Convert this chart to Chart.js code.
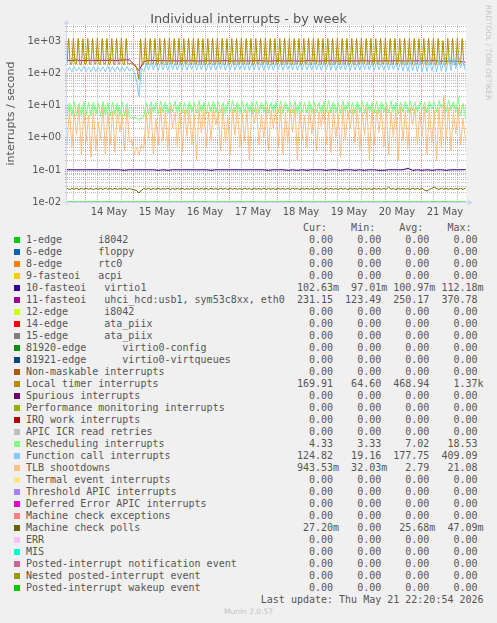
<!DOCTYPE html>
<html>
<head>
<meta charset="utf-8">
<script src="https://cdn.jsdelivr.net/npm/chart.js@4.4.1/dist/chart.umd.min.js"></script>
<style>
    html, body { margin: 0; padding: 0; background: #F0F0F0; }
    body { width: 497px; height: 623px; position: relative; overflow: hidden; font-family: 'DejaVu Sans', sans-serif; }
    #wrap { position: absolute; left: 0; top: 0; width: 497px; height: 222px; }
    #title { position: absolute; left: 0; top: 11px; width: 497px; text-align: center; font-size: 12.9px; line-height: 15px; color: #555; }
    #legend { position: absolute; left: 26px; top: 222px; margin: 0; font: 10px/12px 'DejaVu Sans Mono', monospace; color: #555; white-space: pre; }
    .sw { position: absolute; left: 14px; width: 6px; height: 6px; }
    #wm { position: absolute; left: 484px; top: 5px; writing-mode: vertical-rl; font-size: 7.4px; line-height: 8px; color: #c4c4c4; white-space: nowrap; }
    #foot { position: absolute; left: 0; top: 607px; width: 497px; text-align: center; font-size: 7.5px; line-height: 9px; color: #c4c4c4; }
</style>
</head>
<body>
<div id="wrap"><canvas id="chart" width="497" height="222"></canvas></div>
<div id="title">Individual interrupts - by week</div>
<div id="wm">RRDTOOL / TOBI OETIKER</div>
<pre id="legend"></pre>
<div id="foot">Munin 2.0.57</div>
<script>
// hours counted from 14 May 00:00, samples every timerStep / fastStep / slowStep hours
const t0 = -9;
const timerStep = 0.8;
const fastStep = 1.2;
const slowStep = 2.4;
const xMin = -9, xMax = 190.5;
const yMin = 0.01, yMax = 3300;

const dayLabels = ['14 May', '15 May', '16 May', '17 May', '18 May', '19 May', '20 May', '21 May'];
const dayLabelHours = [12, 36, 60, 84, 108, 132, 156, 180];
const yTickLabels = ['1e-02', '1e-01', '1e+00', '1e+01', '1e+02', '1e+03'];

// Local timer interrupts (timer grid)
const localTimer = [
    205,1260,200, 198,1250,203, 202,1270,197, 196,1240,201, 204,1260,199,
    199,1250,204, 203,1265,198, 197,1245,202, 201,1255,196, 206,1260,200,
    198,1250,203, 202,1270,199, 195,1245,200, 205,207,200, 190,180,120,
    66,1220,185, 200,1250,204, 198,1260,202, 204,1245,197, 198,1265,203,
    201,1250,196, 197,1260,203, 203,1255,198, 199,1270,204, 196,1240,200,
    205,1260,199, 200,1250,203, 198,1265,197, 202,1245,201, 197,1255,204,
    203,1260,198, 199,1250,202, 201,1270,196, 196,1245,203, 204,1260,199,
    198,1250,204, 202,1265,197, 199,1240,201, 203,1255,198, 197,1260,205,
    201,1250,196, 205,1270,200, 196,1245,203, 200,1260,199, 203,1250,197,
    199,1265,204, 202,1240,198, 197,1255,201, 204,1260,196, 198,1250,202,
    201,1270,197, 196,1245,203, 203,1260,199, 199,1250,205, 202,1265,198,
    197,1240,201, 205,1255,196, 200,1260,204, 198,1250,199, 203,1270,197,
    196,1245,202, 201,1260,198, 204,1250,203, 199,1265,196, 202,1240,200,
    198,1255,205, 203,1260,199, 197,1250,201, 201,1270,196, 205,1245,203,
    199,1260,197, 202,1250,204, 196,1265,198, 203,1240,201, 200,1255,199,
    198,1260,203, 204,1250,197, 197,1255,202, 201,1080,196, 199,1260,204,
    203,1250,198, 198,1255,202, 202,1240,185, 170
];

// Function call interrupts
const functionCall = [
    118,160,115,165,120,158,116,170,118,162,
    114,168,117,160,119,165,115,172,118,166,
    116,170,119,164,117,168,120,150,110,60,
    20,150,118,210,128,230,132,220,126,235,
    130,225,127,240,133,215,129,230,131,238,
    128,222,134,235,127,228,130,240,126,218,
    132,232,129,226,135,240,128,220,131,236,
    127,230,133,224,129,238,126,216,134,234,
    130,228,127,242,132,220,128,236,131,226,
    126,232,134,222,129,240,127,218,133,236,
    130,226,128,238,132,222,127,234,131,228,
    129,240,126,220,133,236,130,226,127,232,
    131,218,128,238,134,224,129,230,126,242,
    132,222,127,236,130,228,133,220,128,240,
    120,250,118,260,122,245,115,270,119,255,
    117,265,121,250,116,275,118,260,120,300,
    125,330,140,409,150,260,125
];

// Rescheduling interrupts
const rescheduling = [
    5.2,12.5,4.8,13.5,5.0,12.0,4.6,13.8,5.1,12.8,
    4.9,13.2,5.3,12.2,4.7,13.6,5.0,12.6,4.8,13.0,
    5.2,12.4,4.6,13.4,5.0,12.1,4.5,4.4,4.3,4.2,
    3.4,4.3,4.6,12.5,5.4,13.5,6.0,12.8,5.5,14.0,
    6.2,13.2,5.6,12.6,6.4,14.2,5.8,13.0,6.0,12.4,
    5.5,13.8,6.3,12.8,5.9,14.5,6.1,13.2,5.6,12.9,
    6.5,14.0,5.8,13.4,6.2,12.6,5.5,13.9,6.6,14.6,
    6.0,13.1,5.7,14.3,6.3,12.7,5.9,13.6,6.4,14.1,
    5.6,13.0,6.2,14.4,5.8,12.8,6.5,13.7,6.0,14.2,
    5.7,13.3,6.3,12.9,6.1,14.0,5.5,13.5,6.4,12.6,
    6.0,14.3,5.8,13.1,6.2,12.8,5.6,13.9,6.3,14.5,
    5.9,13.2,6.1,12.7,5.7,14.1,6.4,13.4,6.0,12.9,
    5.6,13.8,6.2,14.3,5.8,13.0,6.5,12.6,6.0,14.0,
    5.7,13.4,6.3,12.8,5.9,14.2,6.1,13.1,5.6,12.7,
    6.4,13.9,5.8,14.4,7.0,12.9,6.2,13.6,7.5,12.8,
    6.0,14.1,7.8,13.0,6.5,14.6,8.2,12.9,6.8,15.2,
    7.2,13.5,6.4,18.5,5.0,12.0,4.3
];

// TLB shootdowns
const tlbShootdowns = [
    0.6,8.0,0.5,6.0,1.2,9.0,0.3,7.5,0.8,5.0,
    0.25,8.5,0.4,3.0,0.9,9.5,0.3,6.5,0.6,7.0,
    0.35,8.0,1.5,5.5,0.4,9.0,0.7,0.9,0.3,0.5,
    0.3,0.6,0.45,6.0,1.0,8.5,0.3,4.0,0.6,9.0,
    0.8,7.0,0.4,9.5,2.0,6.0,0.5,8.0,0.35,7.5,
    1.1,9.0,0.6,5.5,0.2,8.0,1.4,9.5,0.5,6.5,
    0.9,8.5,2.5,7.0,0.4,9.0,0.7,4.5,0.3,8.0,
    1.2,9.5,0.5,6.0,0.8,7.5,0.2,9.0,3.0,8.0,
    0.6,5.5,1.0,9.0,0.4,7.0,2.0,8.5,0.5,9.5,
    0.3,6.0,0.7,8.0,1.5,9.0,0.2,7.5,0.9,5.0,
    0.5,9.0,1.3,8.0,0.4,6.5,2.2,9.5,0.6,7.0,
    0.35,8.5,1.0,5.5,0.25,9.0,0.8,7.0,2.0,8.0,
    0.7,9.5,0.4,6.0,1.2,8.5,0.2,9.0,0.6,7.5,
    1.5,8.0,0.5,9.5,0.3,6.5,1.0,8.0,0.2,9.0,
    0.8,7.0,0.45,9.0,2.5,8.5,0.6,6.0,1.1,9.5,
    0.3,8.0,0.7,7.0,0.19,9.0,0.5,21.0,0.9,8.5,
    0.4,6.5,1.3,9.0,0.6,4.0,0.94
];

// Machine check polls
const machineCheckPolls = [
    .0265,.0248,.0262,.0250,.0266,.0247,.0263,.0251,.0267,.0249,
    .0264,.0246,.0262,.0250,.0265,.0248,.0268,.0251,.0263,.0247,
    .0266,.0249,.0262,.0252,.0265,.0248,.0263,.0250,.0240,.0225,
    .0190,.0235,.0262,.0249,.0266,.0247,.0263,.0251,.0265,.0248,
    .0262,.0250,.0267,.0246,.0264,.0249,.0263,.0251,.0266,.0247,
    .0262,.0250,.0265,.0248,.0268,.0249,.0263,.0251,.0264,.0246,
    .0266,.0250,.0262,.0248,.0265,.0251,.0263,.0247,.0267,.0249,
    .0264,.0250,.0262,.0248,.0266,.0251,.0263,.0246,.0265,.0249,
    .0262,.0250,.0267,.0248,.0264,.0251,.0263,.0247,.0266,.0249,
    .0262,.0250,.0265,.0248,.0268,.0251,.0263,.0246,.0264,.0249,
    .0266,.0250,.0262,.0248,.0265,.0251,.0263,.0247,.0267,.0249,
    .0264,.0250,.0262,.0248,.0266,.0251,.0263,.0246,.0265,.0249,
    .0262,.0250,.0267,.0248,.0264,.0251,.0263,.0247,.0266,.0249,
    .0262,.0250,.0265,.0248,.0290,.0251,.0263,.0246,.0264,.0249,
    .0266,.0250,.0262,.0248,.0265,.0251,.0263,.0247,.0267,.0235,
    .0220,.0250,.0264,.0290,.0262,.0248,.0266,.0251,.0263,.0247,
    .0265,.0249,.0262,.0250,.0266,.0248,.0272
];

// 11-fasteoi (slow grid)
const fasteoi11 = [
    262,258,265,255,260,263,257,261,259,264,
    256,262,268,270,190,124,240,255,258,252,
    256,250,254,249,253,251,255,248,252,250,
    254,249,251,255,248,252,250,253,249,251,
    255,250,248,252,254,249,251,253,250,248,
    252,255,249,251,250,254,248,252,253,249,
    251,250,255,248,252,249,253,251,250,254,
    248,252,250,253,249,251,255,250,248,246,
    250,245,240,231
];

// 10-fasteoi virtio1 (slow grid)
const virtio1 = [
    .1008,.1009,.1007,.1008,.1009,.1008,.1007,.1009,.1008,.1008,
    .1009,.1007,.0970,.1008,.1009,.1007,.1008,.1009,.1008,.0970,
    .1008,.0970,.1009,.1007,.1008,.1009,.1008,.1007,.1009,.1008,
    .0970,.1008,.1009,.1007,.1008,.1009,.1008,.1007,.1009,.1008,
    .1009,.1008,.0970,.1007,.1009,.1008,.0970,.1008,.0970,.1009,
    .0970,.1008,.1007,.1009,.0970,.1008,.1009,.0970,.1008,.1007,
    .0970,.1009,.0970,.1008,.1007,.0970,.0970,.1009,.1008,.1007,
    .1009,.1122,.0970,.1008,.0970,.1009,.0970,.1008,.1007,.0970,
    .1008,.1009,.1007,.1026
];

// all the other sources stay at zero; rrdtool puts zero on the floor of a log graph
const wakeupZero = [0, 0];

const legendNames = [
    '1-edge      i8042', '6-edge      floppy', '8-edge      rtc0', '9-fasteoi   acpi',
    '10-fasteoi   virtio1', '11-fasteoi   uhci_hcd:usb1, sym53c8xx, eth0',
    '12-edge      i8042', '14-edge      ata_piix', '15-edge      ata_piix',
    '81920-edge      virtio0-config', '81921-edge      virtio0-virtqueues',
    'Non-maskable interrupts', 'Local timer interrupts', 'Spurious interrupts',
    'Performance monitoring interrupts', 'IRQ work interrupts', 'APIC ICR read retries',
    'Rescheduling interrupts', 'Function call interrupts', 'TLB shootdowns',
    'Thermal event interrupts', 'Threshold APIC interrupts', 'Deferred Error APIC interrupts',
    'Machine check exceptions', 'Machine check polls', 'ERR', 'MIS',
    'Posted-interrupt notification event', 'Nested posted-interrupt event', 'Posted-interrupt wakeup event'
];
const legendColors = [
    '#00CC00', '#0066B3', '#FF8000', '#FFCC00', '#330099', '#990099', '#CCFF00', '#FF0000',
    '#808080', '#008F00', '#00487D', '#B35A00', '#B38F00', '#6B006B', '#8FB300', '#B30000',
    '#BEBEBE', '#80FF80', '#80C9FF', '#FFC080', '#FFE680', '#AA80FF', '#EE00CC', '#FF8080',
    '#666600', '#FFBFFF', '#00FFCC', '#CC6699', '#999900', '#00CC00'
];
const Z = '0.00';
const legendCur = [Z,Z,Z,Z,'102.63m','231.15',Z,Z,Z,Z,Z,Z,'169.91',Z,Z,Z,Z,'4.33','124.82','943.53m',Z,Z,Z,Z,'27.20m',Z,Z,Z,Z,Z];
const legendMin = [Z,Z,Z,Z,'97.01m','123.49',Z,Z,Z,Z,Z,Z,'64.60',Z,Z,Z,Z,'3.33','19.16','32.03m',Z,Z,Z,Z,'0.00',Z,Z,Z,Z,Z];
const legendAvg = [Z,Z,Z,Z,'100.97m','250.17',Z,Z,Z,Z,Z,Z,'468.94',Z,Z,Z,Z,'7.02','177.75','2.79',Z,Z,Z,Z,'25.68m',Z,Z,Z,Z,Z];
const legendMax = [Z,Z,Z,Z,'112.18m','370.78',Z,Z,Z,Z,Z,Z,'1.37k',Z,Z,Z,Z,'18.53','409.09','21.08',Z,Z,Z,Z,'47.09m',Z,Z,Z,Z,Z];
const lastUpdate = 'Last update: Thu May 21 22:20:54 2026';

// --- legend (monospace columns like rrdtool) ---
const cell = s => (/[mk]$/.test(s) ? s : s + ' ').padStart(8);
const lines = [' '.repeat(46) + 'Cur:    Min:    Avg:    Max:'];
legendNames.forEach((name, i) => {
    lines.push(name.padEnd(44) + cell(legendCur[i]) + cell(legendMin[i]) + cell(legendAvg[i]) + cell(legendMax[i]));
    const sw = document.createElement('div');
    sw.className = 'sw';
    sw.style.top = (222 + 12 * (i + 1) + 3) + 'px';
    sw.style.background = legendColors[i];
    document.body.appendChild(sw);
});
lines.push(' '.repeat(39) + lastUpdate);
document.getElementById('legend').textContent = lines.join('\n');

// --- chart ---
const plotted = [
    { idx: 4, values: virtio1, step: slowStep },
    { idx: 5, values: fasteoi11, step: slowStep },
    { idx: 12, values: localTimer, step: timerStep },
    { idx: 17, values: rescheduling, step: fastStep },
    { idx: 18, values: functionCall, step: fastStep },
    { idx: 19, values: tlbShootdowns, step: fastStep },
    { idx: 24, values: machineCheckPolls, step: fastStep },
    { idx: 29, values: wakeupZero, step: xMax - t0 }
];

const datasets = plotted.map(s => ({
    label: legendNames[s.idx],
    data: s.values.map((v, i) => ({ x: t0 + i * s.step, y: Math.max(v, yMin) })),
    borderColor: legendColors[s.idx],
    borderWidth: 1,
    pointRadius: 0,
    tension: 0,
    fill: false,
    order: 100 - s.idx // rrdtool draws later sources on top
}));

const isDecade = v => Math.abs(Math.log10(v) - Math.round(Math.log10(v))) < 1e-6;
const majorGrid = 'rgba(222, 79, 79, 0.6)';
const minorGrid = 'rgba(143, 143, 143, 0.6)';
const axisColor = '#CFD6F8';
const textColor = '#555';

const yGridValues = [];
for (let e = -2; e <= 3; e++) {
    for (let m = 1; m <= 9; m++) {
        const v = parseFloat(m + 'e' + e);
        if (v <= yMax) yGridValues.push(v);
    }
}
const xGridHours = [];
for (let h = -6; h <= xMax; h += 6) xGridHours.push(h);

const rrdFrame = {
    id: 'rrdFrame',
    beforeDraw(chart) {
        const { ctx, chartArea: a } = chart;
        ctx.save();
        ctx.fillStyle = '#FFFFFF';
        ctx.fillRect(a.left, a.top, a.right - a.left, a.bottom - a.top);
        ctx.restore();
    },
    beforeDatasetsDraw(chart) {
        const { ctx, chartArea: a } = chart;
        const ax = Math.round(a.left) - 0.5;
        const ay = Math.round(a.bottom) + 0.5;
        ctx.save();
        ctx.strokeStyle = axisColor;
        ctx.fillStyle = axisColor;
        ctx.lineWidth = 1;
        ctx.beginPath();
        ctx.moveTo(ax, ay + 3);
        ctx.lineTo(ax, a.top - 2);
        ctx.moveTo(ax - 3, ay);
        ctx.lineTo(a.right + 3, ay);
        ctx.stroke();
        // arrow heads
        ctx.beginPath();
        ctx.moveTo(ax - 3, a.top - 1);
        ctx.lineTo(ax + 3, a.top - 1);
        ctx.lineTo(ax, a.top - 5);
        ctx.closePath();
        ctx.fill();
        ctx.beginPath();
        ctx.moveTo(a.right + 2, ay - 3);
        ctx.lineTo(a.right + 2, ay + 3);
        ctx.lineTo(a.right + 7, ay);
        ctx.closePath();
        ctx.fill();
        ctx.restore();
    }
};

Chart.defaults.font.family = "'DejaVu Sans', sans-serif";

new Chart(document.getElementById('chart'), {
    type: 'line',
    data: { datasets },
    plugins: [rrdFrame],
    options: {
        responsive: false,
        animation: false,
        devicePixelRatio: 1,
        parsing: false,
        layout: { padding: { top: 25, right: 31, left: 0, bottom: 0 } },
        plugins: {
            legend: { display: false },
            tooltip: { enabled: false },
            title: { display: false }
        },
        scales: {
            x: {
                type: 'linear',
                min: xMin,
                max: xMax,
                afterFit: s => { s.height = 20; },
                afterBuildTicks: s => { s.ticks = xGridHours.map(h => ({ value: h })); },
                ticks: {
                    autoSkip: false,
                    maxRotation: 0,
                    padding: 4,
                    color: textColor,
                    font: { size: 10 },
                    callback: v => {
                        const k = dayLabelHours.indexOf(v);
                        return k >= 0 ? dayLabels[k] : '';
                    }
                },
                grid: {
                    drawTicks: false,
                    lineWidth: 1,
                    color: c => (c.tick && c.tick.value % 24 === 0 ? majorGrid : minorGrid)
                },
                border: { display: false, dash: [1, 1] }
            },
            y: {
                type: 'logarithmic',
                min: yMin,
                max: yMax,
                afterFit: s => { s.width = 67; },
                afterBuildTicks: s => { s.ticks = yGridValues.map(v => ({ value: v })); },
                ticks: {
                    autoSkip: false,
                    padding: 4,
                    color: textColor,
                    font: { size: 10 },
                    callback: v => (isDecade(v) ? yTickLabels[Math.round(Math.log10(v)) + 2] : '')
                },
                grid: {
                    drawTicks: true,
                    tickLength: 2,
                    lineWidth: 1,
                    color: c => (c.tick && isDecade(c.tick.value) ? majorGrid : minorGrid)
                },
                border: { display: false, dash: [1, 1] },
                title: {
                    display: true,
                    text: 'interrupts / second',
                    color: textColor,
                    font: { size: 11 },
                    padding: { top: 5, bottom: 0 }
                }
            }
        }
    }
});
</script>
</body>
</html>
